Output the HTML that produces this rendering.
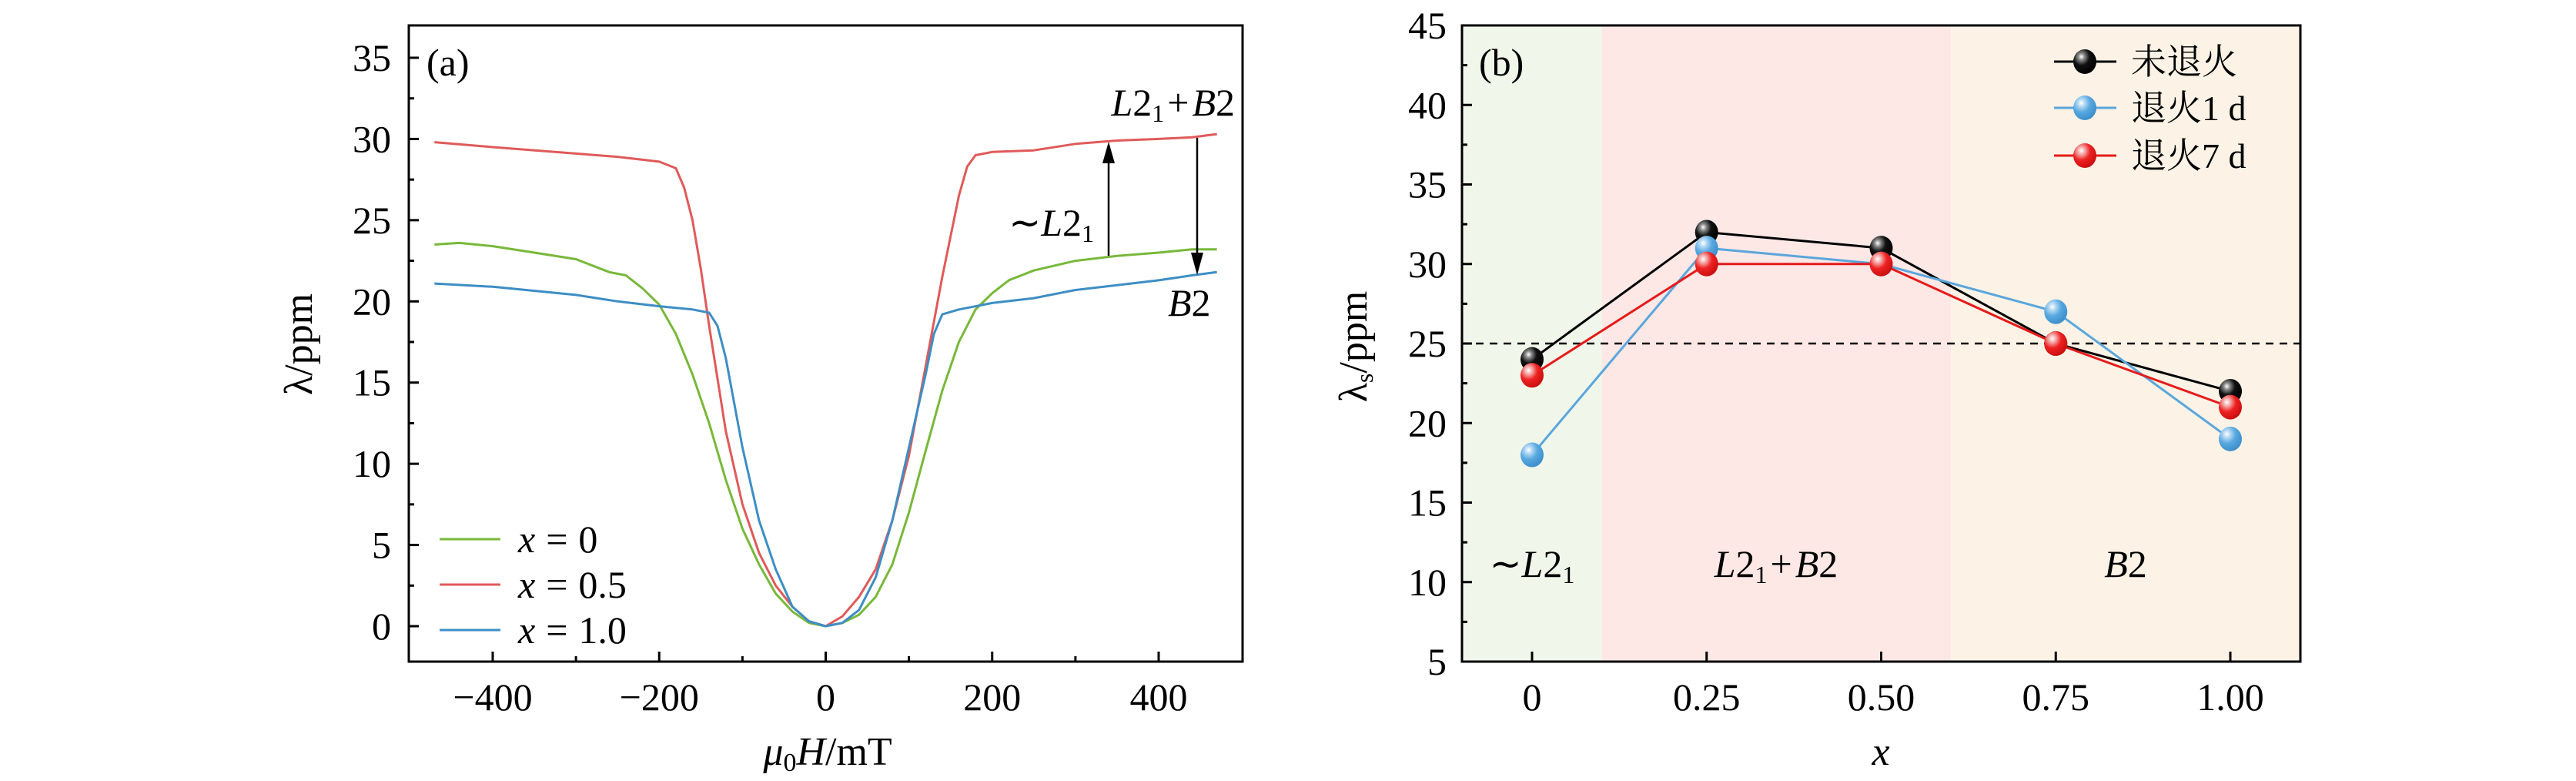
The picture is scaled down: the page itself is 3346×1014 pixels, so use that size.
<!DOCTYPE html>
<html><head><meta charset="utf-8">
<style>
html,body{margin:0;padding:0;background:#fff;}
svg{display:block;}
text{font-family:"Liberation Serif","Noto Serif CJK SC",serif;fill:#000;}
</style></head>
<body>
<svg id="fig" width="3346" height="1014" viewBox="0 0 3346 1014" xmlns="http://www.w3.org/2000/svg">
<defs>
<radialGradient id="gBlack" cx="0.35" cy="0.3" r="0.7"><stop offset="0" stop-color="#fff"/><stop offset="0.2" stop-color="#888"/><stop offset="0.5" stop-color="#111"/><stop offset="1" stop-color="#000"/></radialGradient>
<radialGradient id="gBlue" cx="0.35" cy="0.3" r="0.7"><stop offset="0" stop-color="#fff"/><stop offset="0.25" stop-color="#a9d3f2"/><stop offset="0.55" stop-color="#58a8e0"/><stop offset="1" stop-color="#3f8fcc"/></radialGradient>
<radialGradient id="gRed" cx="0.35" cy="0.3" r="0.7"><stop offset="0" stop-color="#fff"/><stop offset="0.25" stop-color="#f4a0a0"/><stop offset="0.55" stop-color="#ee2222"/><stop offset="1" stop-color="#cc1010"/></radialGradient>
</defs>
<g id="pa"></g>
<g id="pb"></g>
</svg>
<script>
// ---------- Panel (a) data ----------
const greenH = [-470,-440,-400,-350,-300,-260,-240,-220,-200,-180,-160,-140,-120,-100,-80,-60,-40,-20,0,20,40,60,80,100,120,140,160,180,200,220,250,300,350,400,440,470];
const greenL = [23.5,23.6,23.4,23.0,22.6,21.8,21.6,20.8,19.8,18.0,15.5,12.5,9.0,6.0,3.8,2.0,0.9,0.2,0,0.2,0.7,1.8,3.8,7.0,10.8,14.5,17.5,19.5,20.5,21.3,21.9,22.5,22.8,23.0,23.2,23.2];
const redH = [-470,-400,-300,-250,-200,-180,-170,-160,-150,-140,-120,-100,-80,-60,-40,-20,0,20,40,60,80,100,120,140,160,170,180,200,250,300,350,400,440,470];
const redL = [29.8,29.5,29.1,28.9,28.6,28.2,27.0,25.0,22.0,18.5,12.0,7.5,4.5,2.5,1.2,0.3,0,0.6,1.8,3.5,6.5,10.5,16.0,21.5,26.5,28.3,29.0,29.2,29.3,29.7,29.9,30.0,30.1,30.3];
const blueH = [-470,-400,-300,-250,-200,-160,-140,-130,-120,-100,-80,-60,-40,-20,0,20,40,60,80,100,120,130,140,160,200,250,300,350,400,440,470];
const blueL = [21.1,20.9,20.4,20.0,19.7,19.5,19.3,18.5,16.5,11.0,6.5,3.5,1.2,0.3,0,0.2,1.0,3.0,6.5,11.0,15.5,18.0,19.2,19.5,19.9,20.2,20.7,21.0,21.3,21.6,21.8];
const aXTicks = [-400,-200,0,200,400];
const aXTickLabels = ["\u2212400","\u2212200","0","200","400"];
const aYTicks = [0,5,10,15,20,25,30,35];
const aLegend = ["0","0.5","1.0"];

// ---------- Panel (b) data ----------
const bX = [0,0.25,0.5,0.75,1.0];
const bXLabels = ["0","0.25","0.50","0.75","1.00"];
const bUnannealed = [24,32,31,25,22];
const bAnneal1d = [18,31,30,27,19];
const bAnneal7d = [23,30,30,25,21];
const bYTicks = [5,10,15,20,25,30,35,40,45];
const bLegend = ["未退火","退火1 d","退火7 d"];
const bRefLine = 25;

const NS="http://www.w3.org/2000/svg";
function mk(tag, attrs, parent, txt){
  const e=document.createElementNS(NS,tag);
  for(const k in attrs) e.setAttribute(k,attrs[k]);
  if(txt!==undefined) e.textContent=txt;
  parent.appendChild(e); return e;
}

// ===== Panel A =====
const pa=document.getElementById('pa');
const aL=531,aR=1614,aT=33,aB=859;
const ax=h=>640+(h+400)*(1505-640)/800;
const ay=v=>813-v*(813-75)/35;

let bg=mk('rect',{x:aL,y:aT,width:aR-aL,height:aB-aT,fill:'#fff'},pa);



function curve(H,L,color,name){
  let d='';
  H.forEach((h,i)=>{d+=(i?'L':'M')+ax(h).toFixed(1)+' '+ay(L[i]).toFixed(1);});
  const p=mk('path',{d:d,fill:'none',stroke:color,'stroke-width':3,'stroke-linejoin':'round'},pa);
  
  
}
curve(greenH,greenL,'#78b83a','curve-x-0');
curve(redH,redL,'#e05a5a','curve-x-0-5');
curve(blueH,blueL,'#3d8ec4','curve-x-1-0');

for(let v=0; v<=35; v+=2.5){
  const maj = v%5===0;
  const t=mk('line',{x1:aL,x2:aL+(maj?13:7),y1:ay(v),y2:ay(v),stroke:'#000','stroke-width':3},pa);
  
  
}
aYTicks.forEach(v=>{
  const t=mk('text',{x:508,y:ay(v)+17,'text-anchor':'end','font-size':50},pa,String(v));
  
  
});
for(let h=-400; h<=400; h+=100){
  const maj=h%200===0;
  const t=mk('line',{x1:ax(h),x2:ax(h),y1:aB,y2:aB-(maj?13:7),stroke:'#000','stroke-width':3},pa);
  
  
}
aXTicks.forEach((h,i)=>{
  const t=mk('text',{x:ax(h),y:922,'text-anchor':'middle','font-size':50},pa,aXTickLabels[i]);
  
  
});
let fr=mk('rect',{x:aL,y:aT,width:aR-aL,height:aB-aT,fill:'none',stroke:'#000','stroke-width':3},pa);



let tl=mk('text',{x:554,y:98,'font-size':50},pa,'(a)');



let yt=mk('text',{x:0,y:0,'font-size':52,'text-anchor':'middle',transform:'translate(405,447) rotate(-90)'},pa,'λ/ppm');



let xt=mk('text',{x:1075,y:993,'font-size':52,'text-anchor':'middle'},pa);


mk('tspan',{'font-style':'italic'},xt,'μ');
mk('tspan',{'font-size':34,dy:8},xt,'0');
mk('tspan',{'font-style':'italic',dy:-8},xt,'H');
mk('tspan',{},xt,'/mT');

function phaseLabel(parent,x,y,anchor,parts,name,size){
  const t=mk('text',{x:x,y:y,'text-anchor':anchor,'font-size':size||50},parent);
  
  
  parts.forEach(p=>{ mk('tspan',p.attrs||{},t,p.t); });
  return t;
}
phaseLabel(pa,1604,150,'end',[{t:'L',attrs:{'font-style':'italic'}},{t:'2'},{t:'1',attrs:{'font-size':32,dy:8}},{t:'+',attrs:{dy:-8,dx:4}},{t:'B',attrs:{'font-style':'italic',dx:4}},{t:'2'}],'label-l21-b2');
phaseLabel(pa,1421,306,'end',[{t:'∼'},{t:'L',attrs:{'font-style':'italic'}},{t:'2'},{t:'1',attrs:{'font-size':32,dy:8}}],'label-l21');
phaseLabel(pa,1517,410,'start',[{t:'B',attrs:{'font-style':'italic'}},{t:'2'}],'label-b2');

let a1=mk('line',{x1:1440,x2:1440,y1:332,y2:205,stroke:'#000','stroke-width':2.5},pa);


mk('polygon',{points:'1432,212 1448,212 1440,184',fill:'#000'},pa);
let a2=mk('line',{x1:1555,x2:1555,y1:179,y2:335,stroke:'#000','stroke-width':2.5},pa);


mk('polygon',{points:'1547,328 1563,328 1555,357',fill:'#000'},pa);

const aLegColors=['#78b83a','#e05a5a','#3d8ec4'];
const aLegY=[700,759,818];
aLegend.forEach((s,i)=>{
  const g=mk('g',{},pa);
  
  
  mk('line',{x1:571,x2:650,y1:aLegY[i],y2:aLegY[i],stroke:aLegColors[i],'stroke-width':3},g);
  const t=mk('text',{x:673,y:aLegY[i]+17,'font-size':50},g);
  mk('tspan',{'font-style':'italic'},t,'x');
  mk('tspan',{dx:14},t,'=');
  mk('tspan',{dx:14},t,s);
});

// ===== Panel B =====
const pb=document.getElementById('pb');
const bL=1899,bR=2988,bT=33,bB=859;
const bx=x=>1990+x*(2897-1990);
const by=v=>bB-(v-5)*(bB-bT)/40;

let r1=mk('rect',{x:bL,y:bT,width:bx(0.1)-bL,height:bB-bT,fill:'#f0f7ea'},pb);


let r2=mk('rect',{x:bx(0.1),y:bT,width:bx(0.6)-bx(0.1),height:bB-bT,fill:'#fde8e6'},pb);


let r3=mk('rect',{x:bx(0.6),y:bT,width:bR-bx(0.6),height:bB-bT,fill:'#fcf3e6'},pb);



let dl=mk('line',{x1:bL,x2:bR,y1:by(bRefLine),y2:by(bRefLine),stroke:'#000','stroke-width':2.5,'stroke-dasharray':'10 8'},pb);



const bSeries=[[bUnannealed,'#000','url(#gBlack)','series-unannealed'],[bAnneal1d,'#5aa6dc','url(#gBlue)','series-annealed-1d'],[bAnneal7d,'#e51b1b','url(#gRed)','series-annealed-7d']];
bSeries.forEach(s=>{
  const vals=s[0];
  let d='';
  vals.forEach((v,i)=>{d+=(i?'L':'M')+bx(bX[i]).toFixed(1)+' '+by(v).toFixed(1);});
  const p=mk('path',{d:d,fill:'none',stroke:s[1],'stroke-width':3},pb);
  
  
});
bSeries.forEach(s=>{
  s[0].forEach((v,i)=>{
    const c=mk('ellipse',{cx:bx(bX[i]),cy:by(v),rx:15,ry:16,fill:s[2]},pb);
    
    
  });
});

for(let v=5; v<=45; v+=2.5){
  const maj=v%5===0;
  const t=mk('line',{x1:bL,x2:bL+(maj?13:7),y1:by(v),y2:by(v),stroke:'#000','stroke-width':3},pb);
  
  
}
bYTicks.forEach(v=>{
  const t=mk('text',{x:1879,y:by(v)+17,'text-anchor':'end','font-size':50},pb,String(v));
  
  
});
bX.forEach((x,i)=>{
  const t=mk('line',{x1:bx(x),x2:bx(x),y1:bB,y2:bB-13,stroke:'#000','stroke-width':3},pb);
  
  
  const l=mk('text',{x:bx(x),y:922,'text-anchor':'middle','font-size':50},pb,bXLabels[i]);
  
  
});
let fb=mk('rect',{x:bL,y:bT,width:bR-bL,height:bB-bT,fill:'none',stroke:'#000','stroke-width':3},pb);



let tb=mk('text',{x:1921,y:98,'font-size':50},pb,'(b)');



let ytb=mk('text',{x:0,y:0,'font-size':52,'text-anchor':'middle',transform:'translate(1775,450) rotate(-90)'},pb);


mk('tspan',{},ytb,'λ');
mk('tspan',{'font-size':32,dy:8},ytb,'s');
mk('tspan',{dy:-8},ytb,'/ppm');

let xtb=mk('text',{x:2443,y:993,'font-size':52,'text-anchor':'middle','font-style':'italic'},pb,'x');



phaseLabel(pb,1990,749,'middle',[{t:'∼'},{t:'L',attrs:{'font-style':'italic'}},{t:'2'},{t:'1',attrs:{'font-size':32,dy:8}}],'region-label-l21');
phaseLabel(pb,2307,749,'middle',[{t:'L',attrs:{'font-style':'italic'}},{t:'2'},{t:'1',attrs:{'font-size':32,dy:8}},{t:'+',attrs:{dy:-8,dx:4}},{t:'B',attrs:{'font-style':'italic',dx:4}},{t:'2'}],'region-label-l21-b2');
phaseLabel(pb,2761,749,'middle',[{t:'B',attrs:{'font-style':'italic'}},{t:'2'}],'region-label-b2');

const bLegY=[80,140,202];
bSeries.forEach((s,i)=>{
  const g=mk('g',{},pb);
  
  
  mk('line',{x1:2668,x2:2749,y1:bLegY[i],y2:bLegY[i],stroke:s[1],'stroke-width':3},g);
  mk('ellipse',{cx:2708,cy:bLegY[i],rx:15,ry:16,fill:s[2]},g);
  mk('text',{x:2768,y:bLegY[i]+16,'font-size':46},g,bLegend[i]);
});
</script>
</body></html>
